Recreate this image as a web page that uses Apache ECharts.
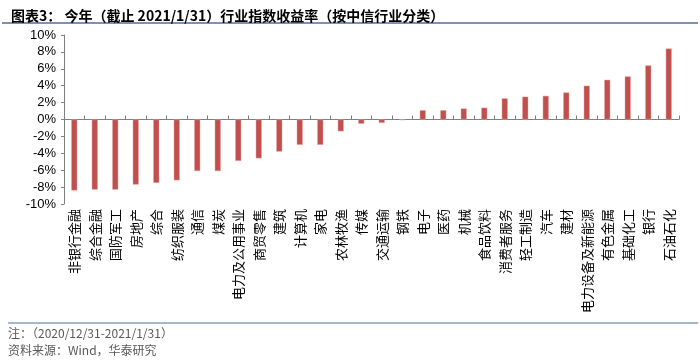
<!DOCTYPE html>
<html><head><meta charset="utf-8">
<script src="https://cdn.jsdelivr.net/npm/echarts@6/dist/echarts.min.js"></script>
<style>html,body{margin:0;padding:0;background:#fff}#c{width:700px;height:361px}</style>
</head><body><div id="c"></div>
<script>
const categories = ['非银行金融','综合金融','国防军工','房地产','综合','纺织服装','通信','煤炭','电力及公用事业','商贸零售','建筑','计算机','家电','农林牧渔','传媒','交通运输','钢铁','电子','医药','机械','食品饮料','消费者服务','轻工制造','汽车','建材','电力设备及新能源','有色金属','基础化工','银行','石油石化'];
const values = [-8.4,-8.3,-8.3,-7.7,-7.5,-7.2,-6.1,-6.1,-4.9,-4.6,-3.8,-3.0,-3.0,-1.4,-0.5,-0.4,-0.05,1.1,1.1,1.3,1.4,2.5,2.7,2.8,3.2,4.0,4.7,5.1,6.4,8.4];
const yTicks = {min:-10, max:10, interval:2};
const titleText = '图表3： 今年（截止 2021/1/31）行业指数收益率（按中信行业分类）';
const note1 = '注：（2020/12/31-2021/1/31）';
const note2 = '资料来源：Wind，华泰研究';

const chart = echarts.init(document.getElementById('c'), null, {renderer:'canvas'});
chart.setOption({
  animation:false,
  title:{text:titleText, left:6, top:4, textStyle:{fontFamily:'Noto Sans CJK SC', fontSize:14, fontWeight:'bold', color:'#000'}},
  grid:{left:64, right:21, top:35, bottom:157, containLabel:false},
  xAxis:[
    {type:'category', data:categories, position:'bottom',
     axisLine:{show:false, onZero:false}, axisTick:{show:false},
     axisLabel:{rotate:90, interval:0, fontFamily:'Noto Sans CJK SC', fontSize:13, color:'#000', margin:5}},
    {type:'category', data:categories, position:'bottom',
     axisLine:{show:true, onZero:true, lineStyle:{color:'#7f7f7f', width:1}},
     axisTick:{show:true, inside:true, length:4, interval:0, lineStyle:{color:'#7f7f7f'}},
     axisLabel:{show:false}}
  ],
  yAxis:{type:'value', min:yTicks.min, max:yTicks.max, interval:yTicks.interval,
    axisLine:{show:true, lineStyle:{color:'#7f7f7f'}},
    axisTick:{show:true, length:3, lineStyle:{color:'#7f7f7f'}},
    splitLine:{show:false},
    axisLabel:{formatter:'{value}%', fontFamily:'Liberation Sans', fontSize:13, color:'#000', margin:8}},
  series:[{type:'bar', data:values, xAxisIndex:0, barWidth:6,
    itemStyle:{color:'#C0504D', borderColor:'#E6A0A0', borderWidth:0.5}}],
  graphic:[
    {type:'line', shape:{x1:2, y1:23, x2:698, y2:23}, style:{stroke:'#4F6E96', lineWidth:1.5}},
    {type:'line', shape:{x1:8, y1:323, x2:698, y2:323}, style:{stroke:'#4F6E96', lineWidth:1}},
    {type:'text', left:8, top:327, style:{text:note1, font:'12px "Noto Sans CJK SC"', fill:'#595959'}},
    {type:'text', left:8, top:344, style:{text:note2, font:'12px "Noto Sans CJK SC"', fill:'#595959'}}
  ]
});
</script></body></html>
